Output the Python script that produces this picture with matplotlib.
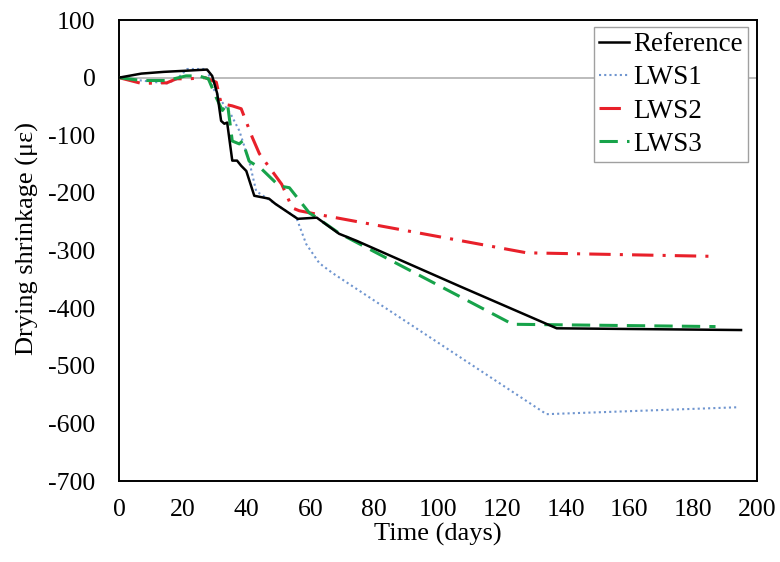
import matplotlib
matplotlib.use("Agg")
import matplotlib.pyplot as plt

# drying shrinkage readings (days, microstrain)
ref_days = [0, 7, 14, 21, 27.6, 29.2, 30.8, 32, 33, 33.9, 35.5, 37, 38.3, 39.9,
            42.4, 47, 49, 56, 62, 69, 74.4, 106.8, 137.2, 195]
ref_vals = [0, 7, 10, 12, 14, 3, -28, -75, -80, -78, -144, -144, -153, -162,
            -205, -210, -219, -245, -243, -271, -283, -362, -435, -438]

lws1_days = [0, 7, 15, 18, 21.4, 27.6, 29.3, 32, 35, 37.7, 40.8, 43, 49, 55.6,
             58.7, 62.8, 66.9, 134, 194]
lws1_vals = [0, -5, -10, -3, 15, 15, -17, -40, -63, -92, -145, -197, -219, -243,
             -289, -322, -339, -584, -572]

lws2_days = [0, 7, 15, 18, 22, 27, 30.5, 32, 35.5, 38.3, 41.8, 44, 51, 54.3,
             56.5, 62, 127.8, 185]
lws2_vals = [0, -10, -9, -2, -2, 0, -8, -45, -49, -54, -104, -132, -185, -226,
             -231, -237, -304, -310]

lws3_days = [0, 7, 15, 21, 25, 28, 30.5, 32.4, 34, 35.5, 37.7, 38.7, 40.8, 44.6,
             50.2, 53.4, 59.7, 62, 69, 123.4, 187]
lws3_vals = [0, -5, -5, 3, 3, -2, -35, -57, -45, -110, -115, -110, -145, -158,
             -188, -191, -235, -243, -270, -428, -432]

plt.rcParams['font.family'] = ['Liberation Serif', 'DejaVu Serif']
plt.rcParams['axes.unicode_minus'] = False

fig = plt.figure(figsize=(7.8, 5.62), dpi=100)
ax = fig.add_axes([0.1526, 0.1441, 0.8179, 0.8203])

ax.axhline(0, color='#b0b0b0', lw=1.2, zorder=1)

ax.plot(ref_days, ref_vals, color='black', lw=1.8, label='Reference', zorder=5)
ax.plot(lws1_days, lws1_vals, color='#6f95cf', lw=1.5, ls=(0, (1, 1.5)),
        label='LWS1', zorder=3)
ax.plot(lws2_days, lws2_vals, color='#e8202a', lw=2.2, ls=(0, (7, 3, 1, 3)),
        label='LWS2', zorder=4)
ax.plot(lws3_days, lws3_vals, color='#17a34a', lw=2.2, ls=(0, (6, 3)),
        label='LWS3', zorder=4)

ax.set_xlim(0, 200)
ax.set_ylim(-700, 100)
ax.set_xticks(range(0, 201, 20))
ax.set_yticks(range(-700, 101, 100))
ax.tick_params(length=0, labelsize=18.5)
ax.tick_params(axis='y', pad=17)
ax.tick_params(axis='x', pad=13)
for s in ax.spines.values():
    s.set_linewidth(1.4)

ax.set_xlabel('Time (days)', fontsize=19, labelpad=1)
ax.set_ylabel('Drying shrinkage (με)', fontsize=19)
ax.yaxis.set_label_coords(-0.125, 0.525)

leg = ax.legend(loc='upper right', bbox_to_anchor=(0.986, 0.985),
                borderaxespad=0, fontsize=19.5, handlelength=1.1,
                handletextpad=0.15, labelspacing=0.3, borderpad=0.2,
                fancybox=False, framealpha=1)
leg.get_frame().set_edgecolor('#a0a0a0')
leg.get_frame().set_linewidth(1.0)

fig.savefig('out.png', dpi=100)
